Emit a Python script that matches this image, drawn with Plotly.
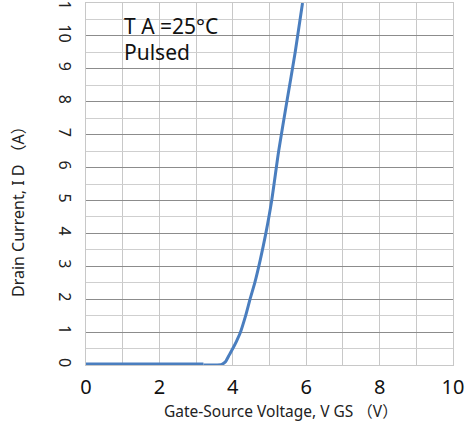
import plotly.graph_objects as go

# Data
off_vgs = [0, 1, 2, 3, 3.2]
off_id = [0, 0, 0, 0, 0]
on_vgs = [3.2, 3.5, 3.7, 3.8, 3.9, 4.0, 4.1, 4.2, 4.35, 4.47, 4.6, 4.75, 4.9, 5.06, 5.25, 5.48, 5.7, 5.9]
on_id = [0, 0, 0.02, 0.1, 0.3, 0.5, 0.72, 0.97, 1.5, 2.0, 2.5, 3.2, 4.0, 5.0, 6.5, 8.05, 9.5, 11]
x_ticks = [0, 2, 4, 6, 8, 10]
y_ticks = list(range(0, 12))
notes = ["T A =25°C", "Pulsed"]
x_title = "Gate-Source Voltage, V GS （V）"
y_title = "Drain Current, I D （A）"

blue = "#4a7ebf"
font_fam = "Noto Sans, Noto Sans CJK KR, sans-serif"

W, H = 469, 423
L, R, T, B = 86, 16, 3, 58
pw, ph = W - L - R, H - T - B


def px_to_paper(px, py):
    return (px - L) / pw, (H - B - py) / ph


xt_x, xt_y = px_to_paper(281, 411)
yt_x, yt_y = px_to_paper(18, 208)

fig = go.Figure()
fig.add_trace(go.Scatter(x=off_vgs, y=off_id, mode="lines",
                         line=dict(color=blue, width=5), showlegend=False, cliponaxis=False))
fig.add_trace(go.Scatter(x=on_vgs, y=on_id, mode="lines",
                         line=dict(color=blue, width=3, shape="spline", smoothing=0.6),
                         showlegend=False))

fig.update_layout(
    width=W, height=H,
    margin=dict(l=L, r=R, t=T, b=B, autoexpand=False),
    paper_bgcolor="white", plot_bgcolor="white",
    font=dict(family=font_fam, color="#222"),
    annotations=[
        dict(text=notes[0], x=0.98, y=10.3, xref="x", yref="y", xanchor="left", yanchor="middle",
             showarrow=False, font=dict(size=21, color="#111")),
        dict(text=notes[1], x=0.98, y=9.5, xref="x", yref="y", xanchor="left", yanchor="middle",
             showarrow=False, font=dict(size=21, color="#111")),
        dict(text=x_title, x=xt_x, y=xt_y, xref="paper", yref="paper",
             xanchor="center", yanchor="middle", showarrow=False,
             font=dict(size=15.5, color="#222")),
        dict(text=y_title, x=yt_x, y=yt_y, xref="paper", yref="paper",
             xanchor="center", yanchor="middle", textangle=-90, showarrow=False,
             font=dict(size=16, color="#222")),
    ],
)
fig.update_xaxes(
    range=[0, 10], tickvals=x_ticks, ticktext=[str(v) for v in x_ticks],
    tickfont=dict(size=20, color="#111"), automargin=False, ticklabeloverflow="allow",
    showgrid=True, gridcolor="#c8c8c8", gridwidth=1,
    minor=dict(dtick=1, showgrid=True, gridcolor="#c8c8c8", gridwidth=1),
    ticks="outside", ticklen=4, tickcolor="rgba(0,0,0,0)",
    showline=True, linecolor="#c8c8c8", mirror=True, zeroline=False,
)
fig.update_yaxes(
    range=[0, 11], tickvals=y_ticks, ticktext=[str(v) for v in y_ticks],
    tickangle=90, tickfont=dict(size=16, color="#222"), automargin=False, ticklabeloverflow="allow",
    showgrid=True, gridcolor="#8c8c8c", gridwidth=1,
    minor=dict(dtick=0.5, showgrid=True, gridcolor="#cfcfcf", gridwidth=1),
    ticks="outside", ticklen=7, tickcolor="rgba(0,0,0,0)",
    showline=True, linecolor="#c8c8c8", mirror=True, zeroline=False,
)

fig.write_html("out.html", config={"displayModeBar": False},
               post_script="document.body.style.margin='0';document.body.style.overflow='hidden';")
